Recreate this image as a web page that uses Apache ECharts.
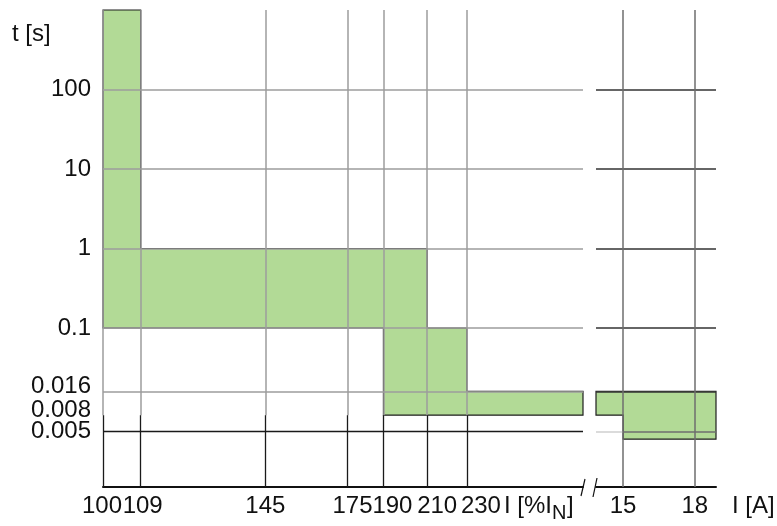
<!DOCTYPE html>
<html>
<head>
<meta charset="utf-8">
<script src="https://cdn.jsdelivr.net/npm/echarts@6/dist/echarts.min.js"></script>
<style>
html,body{margin:0;padding:0;background:#fff;}
#chart{width:777px;height:526px;}
</style>
</head>
<body>
<div id="chart"></div>
<script>
// ---------- data ----------
const pctTicks = [100, 109, 145, 175, 190, 210, 230];
const pctTickLabels = ['100', '109', '145', '175', '190', '210', '230'];
const ampTicks = [15, 18];
const ampTickLabels = ['15', '18'];
const timeTicks = [100, 10, 1, 0.1, 0.016, 0.008, 0.005];
const timeTickLabels = ['100', '10', '1', '0.1', '0.016', '0.008', '0.005'];
const gridTimesGray = [100, 10, 1, 0.1, 0.016];
const gridTimesDark = [0.005];
const gridTimeSplit = 0.008;
// tripping band, % of I_N vs seconds
const bandPctX = [100, 109, 109, 210, 210, 230, 230, 300, 300, 190, 190, 100];
const bandPctY = [1000, 1000, 1, 1, 0.1, 0.1, 0.016, 0.016, 0.008, 0.008, 0.1, 0.1];
// tripping band, amperes vs seconds
const bandAmpX = [14, 19, 19, 15, 15, 14];
const bandAmpY = [0.016, 0.016, 0.004, 0.004, 0.008, 0.008];
// axis ranges
const pctRange = [100, 300];
const ampRange = [14, 19];
const timeRange = [0.001, 1000];

// ---------- style ----------
const FONT = "'Liberation Sans', Arial, sans-serif";
const pctLabelShift = [-1, 2, 0, 5, 9, 10, 14];   // px, rightwards
const timeLabelShift = [0, 0, 0, 0, 5, 5, 0];     // px, upwards
const GRAY = '#9c9c9c', DARK = '#1a1a1a', MID = '#6e6e6e', LIGHT = '#cfcfcf';
const labelText = { fontSize: 24, fontFamily: FONT, color: '#111' };

function seg(x1, y1, x2, y2, color, width) {
  return [{ coord: [x1, y1], lineStyle: { color: color, width: width, type: 'solid' } }, { coord: [x2, y2] }];
}

const leftLines = [];
gridTimesGray.forEach(t => leftLines.push(seg(pctRange[0], t, pctRange[1], t, GRAY, 1.5)));
gridTimesDark.forEach(t => leftLines.push(seg(pctRange[0], t, pctRange[1], t, DARK, 1.3)));
[pctRange[0]].concat(pctTicks.slice(1)).forEach(x => {
  leftLines.push(seg(x, gridTimeSplit, x, timeRange[1], GRAY, 1.5));
  leftLines.push(seg(x, timeRange[0], x, gridTimeSplit, DARK, 1.3));
});
const rightLines = [];
gridTimesGray.forEach(t => rightLines.push(seg(ampRange[0], t, ampRange[1], t, '#333', 1.5)));
gridTimesDark.forEach(t => {
  rightLines.push(seg(ampRange[0], t, ampTicks[0], t, LIGHT, 1.5));
  rightLines.push(seg(ampTicks[0], t, ampRange[1], t, MID, 1.5));
});
ampTicks.forEach(x => rightLines.push(seg(x, timeRange[0], x, timeRange[1], MID, 1.5)));

function bandRender(xs, ys) {
  return function (params, api) {
    if (params.dataIndex !== 0) return null;
    const pts = xs.map((x, i) => api.coord([x, ys[i]]));
    return {
      type: 'polygon',
      shape: { points: pts },
      style: { fill: 'rgba(120,190,70,0.57)', stroke: '#1e1e1e', lineWidth: 1.2 }
    };
  };
}

const markLineBase = { silent: true, symbol: 'none', label: { show: false }, emphasis: { disabled: true }, animation: false };

// rich styles carrying the per-label nudges
const rich = {};
pctLabelShift.forEach((s, i) => {
  rich['p' + i] = Object.assign({}, labelText, { padding: s >= 0 ? [0, 0, 0, 2 * s] : [0, -2 * s, 0, 0] });
});
timeLabelShift.forEach((s, i) => {
  rich['t' + i] = Object.assign({}, labelText, { lineHeight: 20, padding: [0, 0, 2 * s, 0] });
});
rich.a = Object.assign({}, labelText);

// tick label series (drawn through the axes' scales)
const pctLabelData = pctTicks.map((x, i) => ({ value: [x, timeRange[0]], name: '{p' + i + '|' + pctTickLabels[i] + '}' }));
const ampLabelData = ampTicks.map((x, i) => ({ value: [x, timeRange[0]], name: '{a|' + ampTickLabels[i] + '}' }));
const timeLabelData = timeTicks.map((t, i) => ({ value: [pctRange[0], t], name: '{t' + i + '|' + timeTickLabels[i] + '}' }));

function labelSeries(xi, data, pos, dist) {
  return {
    type: 'scatter', xAxisIndex: xi, yAxisIndex: xi, data: data, symbolSize: 0, silent: true, clip: false, z: 5,
    itemStyle: { opacity: 1 },
    label: Object.assign({ show: true, position: pos, distance: dist, formatter: p => p.name, rich: rich, opacity: 1 }, labelText),
    labelLayout: { hideOverlap: false }
  };
}

const hiddenAxis = { axisTick: { show: false }, splitLine: { show: false }, axisLabel: { show: false } };

const option = {
  animation: false,
  backgroundColor: '#fff',
  grid: [
    { left: 103, top: 10, width: 480, height: 477 },
    { left: 596, top: 10, width: 120, height: 477 }
  ],
  xAxis: [
    Object.assign({ type: 'log', gridIndex: 0, min: pctRange[0], max: pctRange[1],
      axisLine: { show: true, lineStyle: { color: '#111', width: 2 } } }, hiddenAxis),
    Object.assign({ type: 'log', gridIndex: 1, min: ampRange[0], max: ampRange[1],
      axisLine: { show: true, lineStyle: { color: '#111', width: 2 } } }, hiddenAxis)
  ],
  yAxis: [
    Object.assign({ type: 'log', gridIndex: 0, min: timeRange[0], max: timeRange[1], axisLine: { show: false } }, hiddenAxis),
    Object.assign({ type: 'log', gridIndex: 1, min: timeRange[0], max: timeRange[1], axisLine: { show: false } }, hiddenAxis)
  ],
  series: [
    { type: 'line', xAxisIndex: 0, yAxisIndex: 0, data: [], z: 1, markLine: Object.assign({ data: leftLines }, markLineBase) },
    { type: 'line', xAxisIndex: 1, yAxisIndex: 1, data: [], z: 1, markLine: Object.assign({ data: rightLines }, markLineBase) },
    { type: 'custom', xAxisIndex: 0, yAxisIndex: 0, z: 3, silent: true, data: [[bandPctX[0], bandPctY[2]]], renderItem: bandRender(bandPctX, bandPctY), clip: false },
    { type: 'custom', xAxisIndex: 1, yAxisIndex: 1, z: 3, silent: true, data: [[bandAmpX[0], bandAmpY[0]]], renderItem: bandRender(bandAmpX, bandAmpY), clip: false },
    labelSeries(0, pctLabelData, 'bottom', 7),
    labelSeries(1, ampLabelData, 'bottom', 7),
    labelSeries(0, timeLabelData, 'left', 12)
  ],
  graphic: [
    { type: 'text', left: 12, top: 22, style: { text: 't [s]', fontSize: 24, fontFamily: FONT, fill: '#111' } },
    { type: 'text', x: 504, y: 506, style: { text: 'I [%I', fontSize: 24, fontFamily: FONT, fill: '#111', verticalAlign: 'middle' } },
    { type: 'text', x: 552, y: 513, style: { text: 'N', fontSize: 20, fontFamily: FONT, fill: '#111', verticalAlign: 'middle' } },
    { type: 'text', x: 567, y: 506, style: { text: ']', fontSize: 24, fontFamily: FONT, fill: '#111', verticalAlign: 'middle' } },
    { type: 'text', x: 732, y: 506, style: { text: 'I [A]', fontSize: 24, fontFamily: FONT, fill: '#111', verticalAlign: 'middle' } },
    { type: 'line', shape: { x1: 581, y1: 496, x2: 585, y2: 479 }, style: { stroke: '#111', lineWidth: 1.2 } },
    { type: 'line', shape: { x1: 593, y1: 497, x2: 597, y2: 478 }, style: { stroke: '#111', lineWidth: 1.2 } }
  ]
};

const chart = echarts.init(document.getElementById('chart'), null, { renderer: 'canvas' });
chart.setOption(option);
</script>
</body>
</html>
